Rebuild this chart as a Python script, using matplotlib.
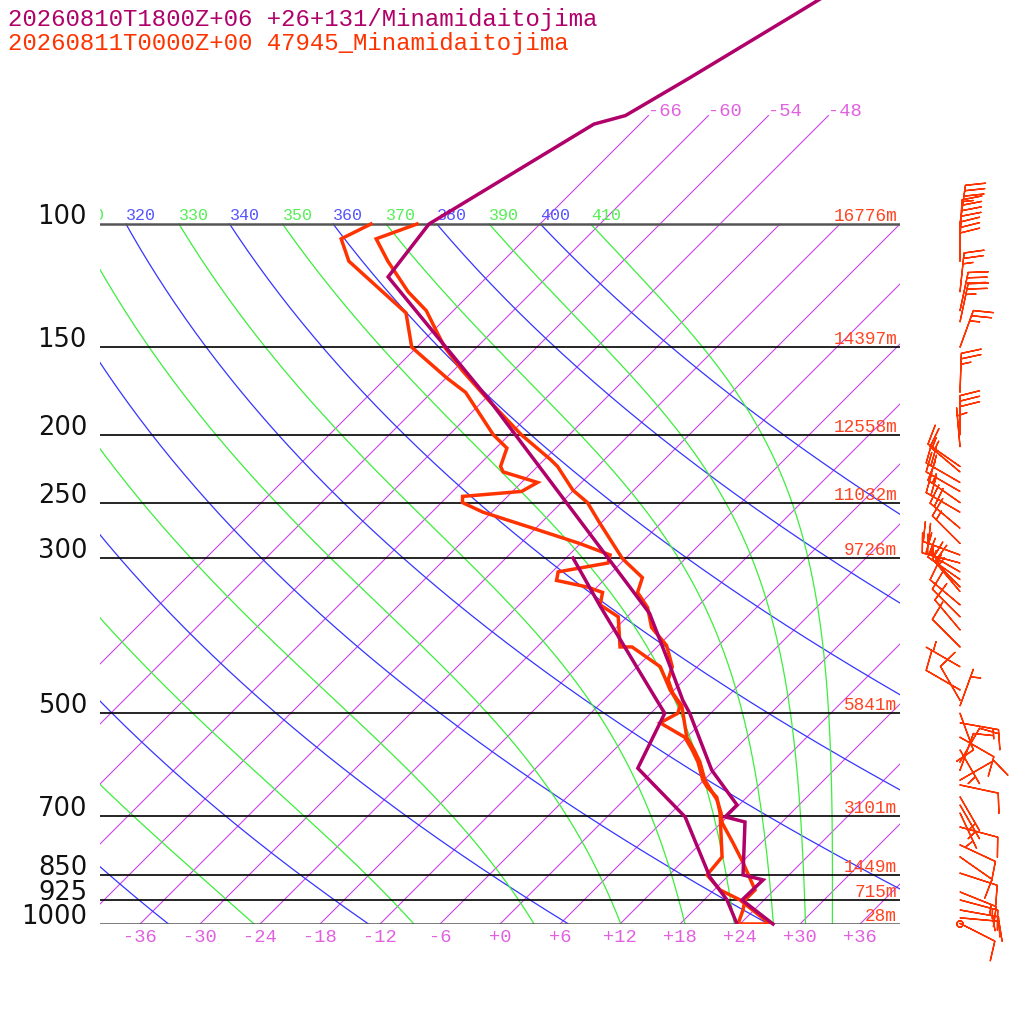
import numpy as np
import matplotlib
matplotlib.use('Agg')
import matplotlib.pyplot as plt

# 模式预报廓线 (紫色)
model_p = [30, 50, 62, 70, 72, 100, 119, 178, 300, 360, 429, 479, 500, 603, 676, 703, 715, 851, 865, 924, 1000]
model_t = [-51.5, -61.4, -65.7, -68.3, -70.6, -77.1, -75.9, -53.6, -25.8, -16.1, -8.7, -4.1, -2.1,
           5.8, 11.8, 11.8, 14.3, 19.4, 21.9, 21.8, 27.3]
model_td_p = [300, 352, 479, 500, 599, 703, 857, 924, 1000]
model_td = [-29.3, -21.7, -6.7, -4.6, -1.8, 7.8, 16.3, 20.3, 23.7]

# 探空观测 (红色)
obs_t_p = [100, 105, 113, 125, 133, 143, 150, 162, 178, 200, 217, 222, 240, 250, 267, 300, 305, 320,
           336, 353, 377, 400, 429, 448, 468, 479, 487, 541, 564, 587, 623, 665, 694, 717, 766, 816,
           894, 924, 955, 1000, 1000]
obs_t = [-78.3, -80.9, -77.5, -72.4, -68.7, -65.4, -63.2, -59.1, -53.7, -46.8, -41.4, -40.0, -36.1,
         -33.4, -30.2, -24.4, -23.4, -20.4, -19.4, -16.9, -14.5, -11.2, -8.5, -7.6, -5.8, -4.6, -3.7,
         0.0, 2.0, 3.8, 6.1, 9.3, 11.0, 12.1, 15.2, 18.1, 22.1, 22.1, 22.9, 23.8, 27.2]
obs_td_p = [100, 105, 113, 134, 150, 166, 174, 200, 209, 222, 226, 234, 241, 245, 250, 258, 272, 286,
            297, 305, 314, 323, 330, 336, 350, 364, 402, 402, 429, 463, 479, 488, 500, 516, 541, 564,
            587, 623, 637, 659, 694, 802, 851, 894, 924, 1000]
obs_td = [-82.9, -84.4, -81.4, -70.5, -66.5, -59.9, -56.6, -49.6, -46.9, -45.7, -44.9, -40.4, -41.1,
          -46.5, -45.9, -42.9, -36.3, -30.1, -25.9, -25.3, -29.4, -28.7, -25.0, -22.9, -21.9, -18.9,
          -15.7, -14.5, -9.7, -6.4, -4.7, -3.8, -3.3, -4.1, -0.2, 1.8, 3.6, 5.9, 7.0, 9.0, 10.9, 15.5,
          15.8, 18.6, 21.6, 27.0]

# 风 (观测)
wind_p = [100, 105, 113, 125, 133, 138, 150, 174, 200, 208, 222, 226, 234, 241, 250, 258, 272, 286,
          297, 305, 314, 322, 330, 335, 350, 364, 380, 402, 429, 463, 479, 488, 500, 516, 541, 564,
          587, 603, 623, 633, 658, 676, 694, 727, 771, 802, 846, 900, 924, 955, 980, 998, 1000]
wind_dir = [8, 3, 0, 6, 12, 12, 20, 2, 0, 355, 305, 310, 300, 300, 305, 300, 310, 315, 290, 285,
            300, 305, 315, 320, 310, 315, 320, 315, 300, 300, 330, 20, 160, 100, 120, 150, 30, 20,
            60, 102, 150, 150, 155, 105, 115, 125, 108, 112, 105, 100, 95, 117, 0]
wind_spd = [35, 40, 30, 25, 30, 25, 25, 25, 30, 5, 15, 15, 20, 20, 15, 20, 20, 15, 20, 25, 15, 15,
            15, 15, 10, 10, 10, 10, 5, 10, 10, 5, 10, 15, 10, 5, 10, 10, 10, 10, 5, 5, 5, 10, 10,
            10, 10, 15, 15, 15, 15, 10, 0]

# 标准等压面和高度
levels = [100, 150, 200, 250, 300, 500, 700, 850, 925, 1000]
heights = ['16776m', '14397m', '12558m', '11032m', '9726m', '5841m', '3101m', '1449m', '715m', '28m']

isotherms = list(range(-66, 37, 6))
top_isotherms = [-66, -60, -54, -48]
thetas = list(range(200, 401, 20))
theta_es = list(range(250, 411, 20))

title1 = '20260810T1800Z+06 +26+131/Minamidaitojima'
title2 = '20260811T0000Z+00 47945_Minamidaitojima'

C_MODEL = '#b0006a'
C_OBS = '#ff3300'
C_ISO = '#cc44ee'
C_ISO_TXT = '#e060e0'
C_DRY = '#3535ff'
C_DRY_TXT = '#5555ff'
C_WET = '#3cee3c'
C_WET_TXT = '#55ee55'
MONO = 'Liberation Mono'


def skew_x(t, p):
    return np.asarray(t, float) + 70.0 * np.log10(1000.0 / np.asarray(p, float))


def theta_e_sat(tk, p):
    tc = tk - 273.15
    es = 6.112 * np.exp(17.67 * tc / (tc + 243.5))
    ok = es < 0.8 * p
    es = np.where(ok, es, 0.8 * p)
    r = 622.0 * es / (p - es)
    the = tk * (1000.0 / p) ** (0.2854 * (1 - 0.00028 * r)) * \
        np.exp((3.376 / tk - 0.00254) * r * (1 + 0.00081 * r))
    return np.where(ok, the, 1e5)


def moist_adiabat(the, p):
    lo = np.full(p.shape, 120.0)
    hi = np.full(p.shape, 330.0)
    for _ in range(60):
        mid = 0.5 * (lo + hi)
        big = theta_e_sat(mid, p) > the
        hi = np.where(big, mid, hi)
        lo = np.where(big, lo, mid)
    return 0.5 * (lo + hi) - 273.15


fig = plt.figure(figsize=(10.24, 10.24), dpi=100)
ax = fig.add_axes([100 / 1024, 100 / 1024, 800 / 1024, 924 / 1024])
ax.set_yscale('log')
ax.set_xlim(-40, 40)
ax.set_ylim(1000, 1000 / 10 ** (924 / 700))
ax.axis('off')

pg = np.geomspace(1000, 100, 200)


def top_label(x, txt, color):
    # 100 hPa 线上方的标注, 只保留落在图内(或刚好被左边切掉一点)的
    if x < -44.5:
        return
    ax.annotate(txt, (x, 100), xytext=(0, 4), textcoords='offset pixels', ha='left',
                va='baseline', color=color, fontsize=12, family=MONO, clip_on=True,
                annotation_clip=False)


# 等温线
for t in isotherms:
    ptop = 70 if t in top_isotherms else 100
    pp = np.array([1000, ptop])
    ax.plot(skew_x([t, t], pp), pp, color=C_ISO, lw=0.8, zorder=1)
    if -36 <= t <= 36:
        ax.annotate(f'{t:+d}', (t, 1000), xytext=(0, -5), textcoords='offset pixels',
                    ha='center', va='top', color=C_ISO_TXT, fontsize=13.5, family=MONO,
                    annotation_clip=False)
for t in top_isotherms:
    ax.text(skew_x(t, 70), 70, f'{t:+d}', ha='left', va='baseline', color=C_ISO_TXT,
            fontsize=13.5, family=MONO)

# 干绝热线
for th in thetas:
    tt = th * (pg / 1000.0) ** 0.2857 - 273.15
    ax.plot(skew_x(tt, pg), pg, color=C_DRY, lw=0.9, zorder=1)
    top_label(skew_x(tt[-1], 100), str(th), C_DRY_TXT)

# 湿绝热线
for the in theta_es:
    tt = moist_adiabat(the, pg)
    ax.plot(skew_x(tt, pg), pg, color=C_WET, lw=0.9, zorder=1)
    top_label(skew_x(tt[-1], 100), str(the), C_WET_TXT)

# 等压线
for lev, h in zip(levels, heights):
    edge = lev in (100, 1000)
    ax.axhline(lev, color='#555555' if edge else 'black', lw=1.8 if edge else 1.2, zorder=2)
    ax.annotate(str(lev), (-41.3, lev), ha='right', va='baseline', fontsize=18.5,
                family='DejaVu Sans', color='#111111', annotation_clip=False)
    ax.annotate(h, (39.7, lev), xytext=(0, 3), textcoords='offset pixels', ha='right',
                va='baseline', fontsize=12.8, family=MONO, color='#ff4422',
                annotation_clip=False)

# 廓线
ax.plot(skew_x(obs_td, obs_td_p), obs_td_p, color=C_OBS, lw=2.5, zorder=4,
        solid_joinstyle='miter')
ax.plot(skew_x(obs_t, obs_t_p), obs_t_p, color=C_OBS, lw=2.5, zorder=4,
        solid_joinstyle='miter')
ax.plot(skew_x(model_td, model_td_p), model_td_p, color=C_MODEL, lw=2.5, zorder=5,
        solid_joinstyle='miter')
ax.plot(skew_x(model_t, model_p), model_p, color=C_MODEL, lw=2.5, zorder=5,
        solid_joinstyle='miter', clip_on=False)

# 风羽
wd = np.deg2rad(wind_dir)
ws = np.array(wind_spd, float)
u = -ws * np.sin(wd)
v = -ws * np.cos(wd)
b = ax.barbs(np.full(len(wind_p), 46.0), wind_p, u, v, length=7.5, color=C_OBS,
             linewidth=1.0, zorder=6,
             sizes=dict(height=0.5, spacing=0.14, emptybarb=0.08))
b.set_clip_on(False)

fig.text(8 / 1024, 1 - 26 / 1024, title1, color=C_MODEL, fontsize=17.3, family=MONO,
         ha='left', va='baseline')
fig.text(8 / 1024, 1 - 50 / 1024, title2, color=C_OBS, fontsize=17.3, family=MONO,
         ha='left', va='baseline')

fig.savefig('out.png', dpi=100, facecolor='white')
